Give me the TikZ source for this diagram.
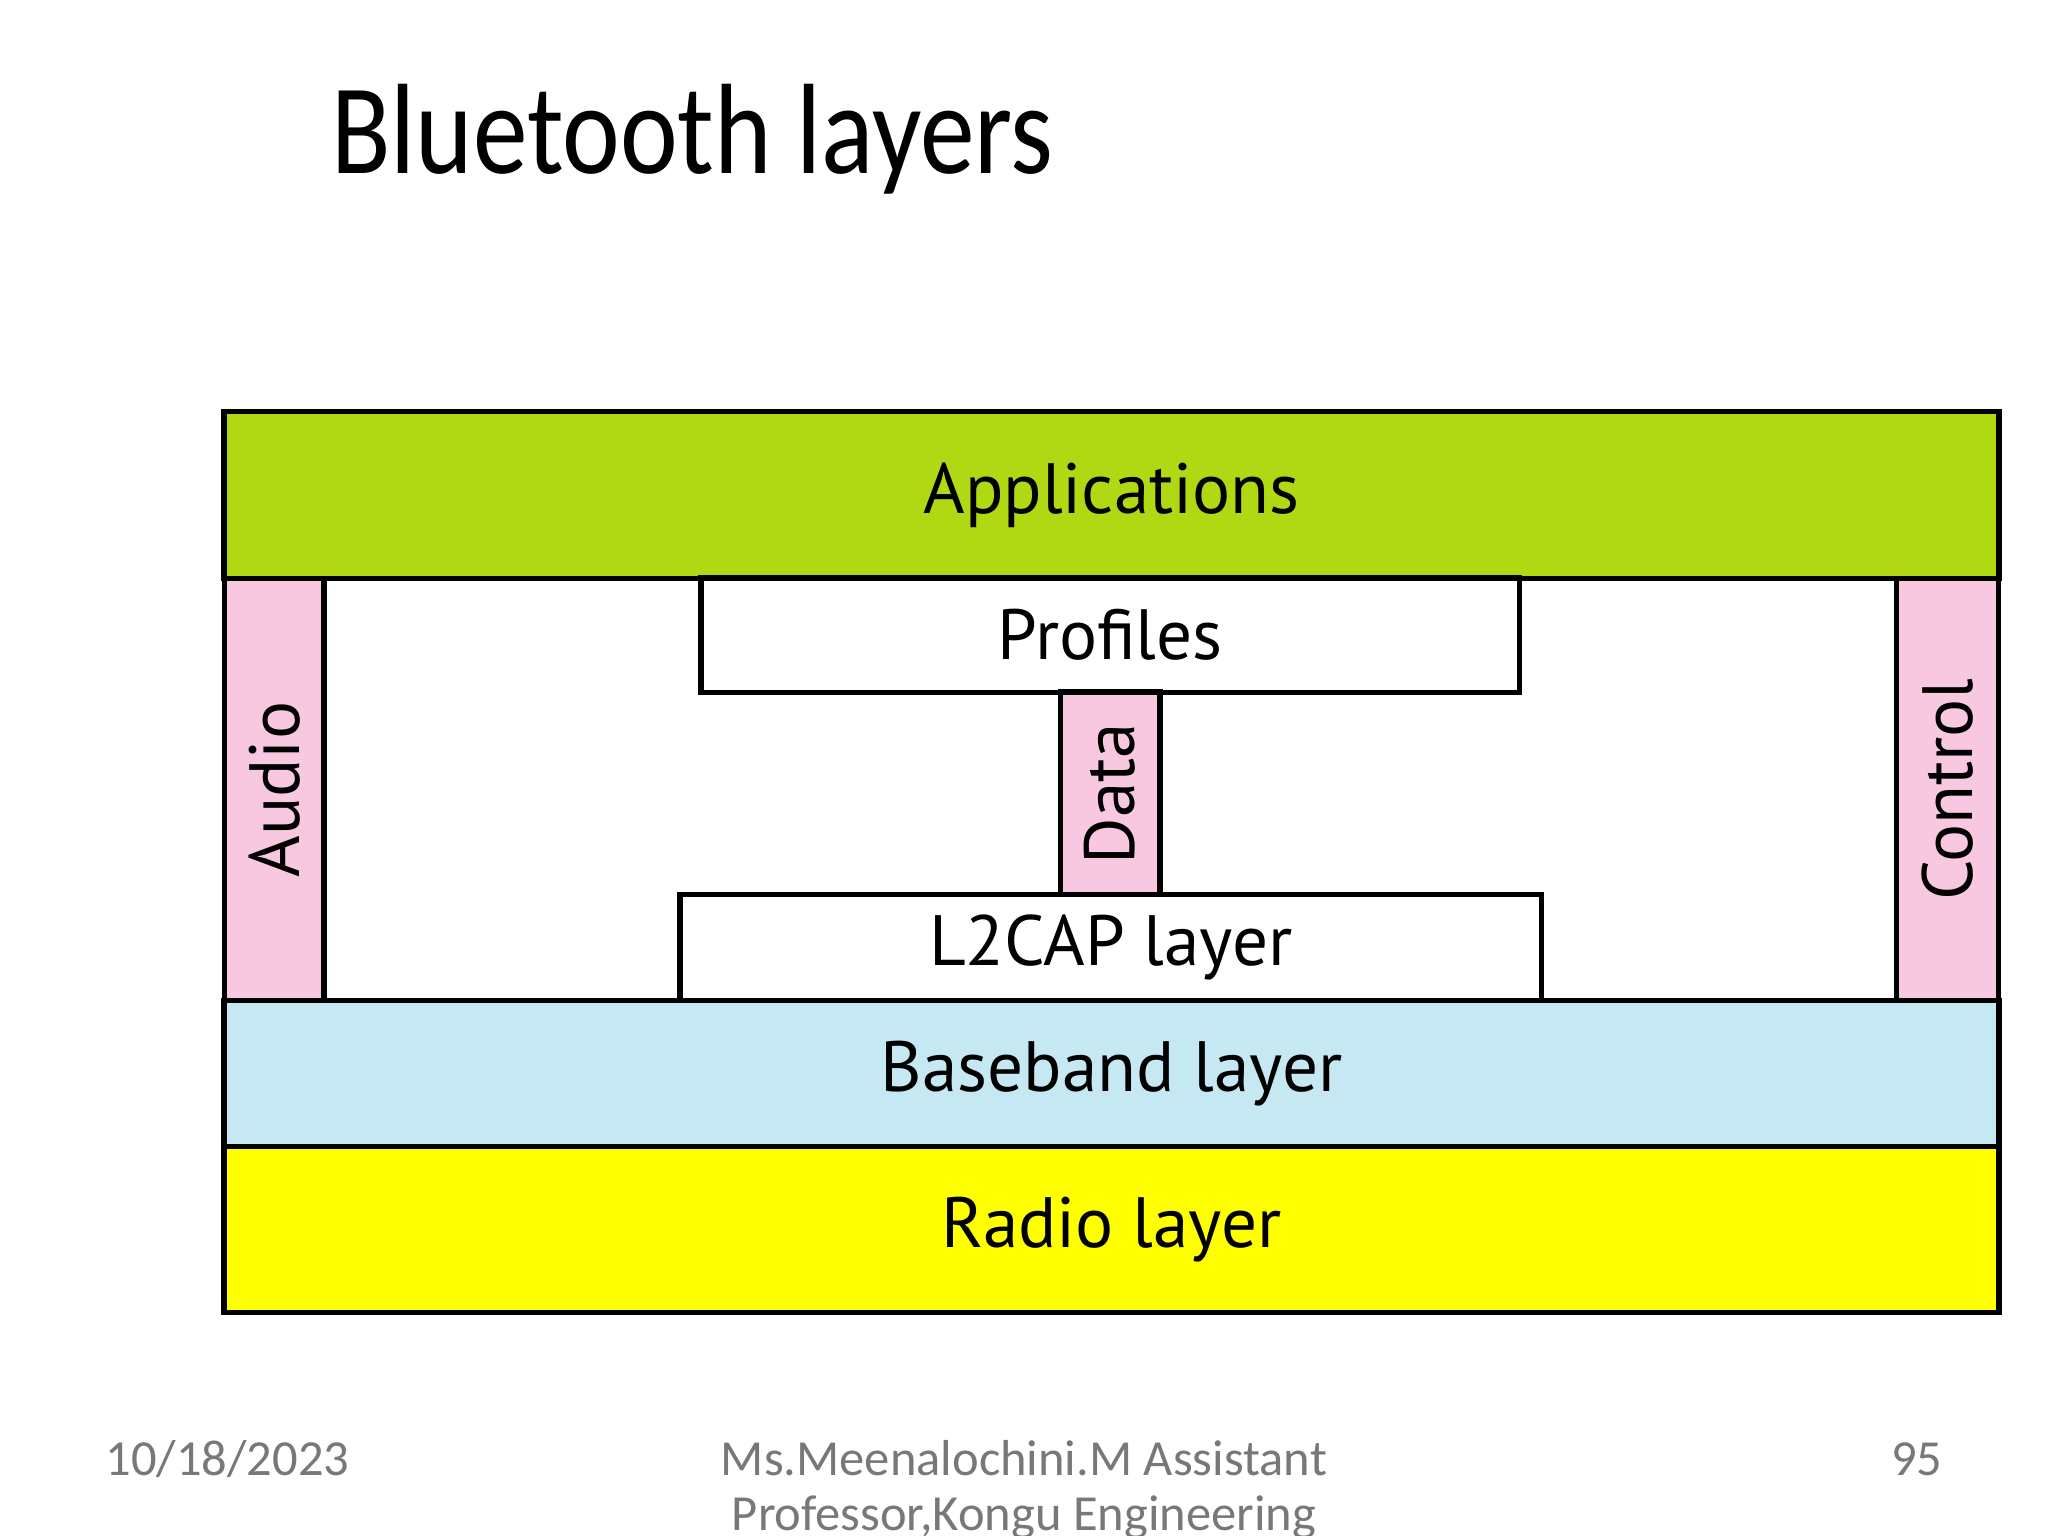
\documentclass[tikz,border=0pt]{standalone}
\usepackage{fontspec}
\setmainfont{Carlito}
\newfontfamily\layerfont{PT Sans}
\definecolor{appgreen}{RGB}{176,217,20}
\definecolor{sidepink}{RGB}{248,200,224}
\definecolor{baseblue}{RGB}{197,232,242}
\definecolor{radioyel}{RGB}{255,255,0}
\definecolor{footgray}{RGB}{120,120,120}
\begin{document}
\begin{tikzpicture}[x=0.01cm,y=-0.01cm]
  \tikzset{layer/.style={draw,line width=1.2pt,inner sep=0pt,font=\layerfont\fontsize{15.5}{18}\selectfont},
           foot/.style={text=footgray,font=\fontsize{11}{13}\selectfont,inner sep=0pt}}
  \useasboundingbox (0,0) rectangle (1568,1176);
  \clip (0,0) rectangle (1568,1176);

  \node[anchor=base west,inner sep=0pt,font=\fontsize{28}{32}\selectfont] (title) at (253,133) {\scalebox{0.85}[1]{Bluetooth layers}};

  \node[layer,fill=appgreen,minimum width=13.58cm,minimum height=1.28cm] (app) at (851,379) {Applications};
  \node[layer,fill=sidepink,minimum width=0.76cm,minimum height=3.23cm] (audio) at (210,604.5) {\rotatebox{90}{Audio}};
  \node[layer,fill=sidepink,minimum width=0.78cm,minimum height=3.23cm] (ctrl) at (1491,604.5) {\rotatebox{90}{Control}};
  \node[layer,fill=white,minimum width=6.26cm,minimum height=0.88cm] (prof) at (850,486) {Profiles};
  \node[layer,fill=sidepink,minimum width=0.76cm,minimum height=1.55cm] (data) at (850,607.5) {\rotatebox{90}{Data}};
  \node[layer,fill=white,minimum width=6.59cm,minimum height=0.81cm] (l2cap) at (850.5,725.5) {L2CAP layer};
  \node[layer,fill=baseblue,minimum width=13.58cm,minimum height=1.12cm] (base) at (851,822) {Baseband layer};
  \node[layer,fill=radioyel,minimum width=13.58cm,minimum height=1.27cm] (radio) at (851,941.5) {Radio layer};
  \draw[line width=1.2pt] (172,443) rectangle (1530,1005);

  \node[foot,anchor=base west] (date) at (80,1130) {10/18/2023};
  \node[foot,anchor=base] (author) at (784,1130) {Ms.Meenalochini.M Assistant};
  \node[foot,anchor=base] (author2) at (784,1172) {Professor,Kongu Engineering};
  \node[foot,anchor=base east] (page) at (1488,1130) {95};
\end{tikzpicture}
\end{document}
